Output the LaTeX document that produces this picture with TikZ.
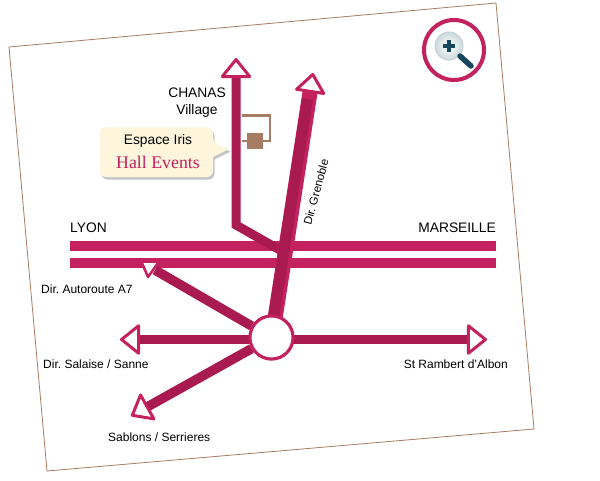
\documentclass[tikz,border=0pt]{standalone}
\usepackage{fontspec}
\setmainfont{Liberation Sans}
\newfontfamily\hallfont{Liberation Serif}
\usetikzlibrary{arrows.meta, positioning, shadows}
\definecolor{roadpink}{HTML}{C4215F}
\definecolor{roaddark}{HTML}{A81A50}
\definecolor{brownline}{HTML}{A67C62}
\definecolor{creamfill}{HTML}{FDF5DC}
\definecolor{lensfill}{HTML}{CBD9DD}
\definecolor{lensdark}{HTML}{17475C}

\begin{document}
\frenchspacing
\begin{tikzpicture}[x=1pt,y=-1pt,
    sheet/.style={draw=brownline,line width=0.8pt,fill=white},
    road/.style={line width=9.5pt,draw=roaddark},
    bar/.style={line width=10pt,draw=roadpink},
    headed/.style={-{Triangle[open,round,length=21pt,width=33pt,fill=white,color=roadpink,line width=3pt]}},
    hubring/.style={circle,draw=roadpink,fill=white,line width=3pt,minimum size=43pt,inner sep=0pt},
    place/.style={inner sep=0pt,font=\fontsize{13.8}{16}\selectfont,text=black},
    small/.style={inner sep=0pt,font=\fontsize{12}{14}\selectfont,text=black},
    site/.style={draw=brownline,line width=2.8pt}]

    \useasboundingbox (0,0) rectangle (600,480);

    % sheet of paper
    \draw[sheet] (9,47) -- (496,3) -- (534,429) -- (47,471) -- cycle;

    \coordinate (lyon_a) at (70,246);
    \coordinate (mars_a) at (496,246);
    \coordinate (lyon_b) at (70,263);
    \coordinate (mars_b) at (496,263);
    \coordinate (chanas_tip) at (236,58);
    \coordinate (chanas_bend) at (236,225);
    \coordinate (chanas_end) at (280,250);
    \coordinate (gren_tip) at (313,73);
    \coordinate (gren_foot) at (274,325);
    \coordinate (gren_dark) at (307.5,99);
    \coordinate (gren_start) at (272.5,325);
    \coordinate (a7_neck) at (155,270);
    \coordinate (a7_left) at (142,263);
    \coordinate (a7_apex) at (148,277);
    \coordinate (a7_right) at (158,263);
    \coordinate (sal_start) at (250,339.5);
    \coordinate (sal_tip) at (120,339.5);
    \coordinate (ramb_start) at (292,339.5);
    \coordinate (ramb_tip) at (487,339.5);
    \coordinate (sab_tip) at (131,416);

    \draw[bar] (lyon_a) -- (mars_a);
    \draw[bar] (lyon_b) -- (mars_b);

    \node[hubring] (hub) at (271.5,337.5) {};

    % roads
    \draw[line width=9pt,draw=roaddark,line join=miter,headed] (chanas_end) -- (chanas_bend) -- (chanas_tip);
    \draw[line width=15pt,draw=roadpink,headed] (gren_foot) -- (gren_tip);
    \draw[line width=11pt,draw=roaddark] (gren_start) -- (gren_dark);
    \draw[road,headed] (sal_start) -- (sal_tip);
    \draw[road,headed] (ramb_start) -- (ramb_tip);
    \draw[road,headed] (hub) -- (sab_tip);
    \draw[road] (hub) -- (a7_neck);
    \fill[white] (a7_left) -- (a7_apex) -- (a7_right) -- cycle;
    \draw[roadpink,line width=2.5pt,line join=round] (a7_left) -- (a7_apex) -- (a7_right);
    \node[hubring] (hubtop) at (hub) {};

    % site marker
    \node[fill=brownline,minimum size=16pt,inner sep=0pt] (hall) at (255,141) {};
    \coordinate (site_a) at (242,115.5);
    \coordinate (site_b) at (270,115.5);
    \coordinate (site_c) at (270,141);
    \draw[site] (site_a) -- (site_b) -- (site_c) -- (hall);
    \coordinate (site_d) at (242,141);
    \draw[site] (site_d) -- (hall);

    % callout
    \path[fill=creamfill,rounded corners=6pt,drop shadow={shadow xshift=1.5pt,shadow yshift=-2.5pt,fill=black!45}]
        (100,127) -- (213,127) -- (213,143) [sharp corners] -- (229,149) -- (213,157) [rounded corners=6pt] -- (213,177) -- (100,177) -- cycle;
    \node[place] (iris) at (158,141) {Espace Iris};
    \node[inner sep=0pt,text=roadpink,font=\hallfont\fontsize{17.8}{20}\selectfont] (events) at (158,162) {Hall Events};

    % loupe
    \node[circle,draw=roadpink,line width=4pt,minimum size=60pt,inner sep=0pt] (loupe) at (454,50) {};
    \node[circle,draw=lensdark!25,inner color=white,outer color=lensfill,line width=1pt,minimum size=28pt,inner sep=0pt] (lens) at (449,46) {};
    \coordinate (grip) at (471,66);
    \coordinate (neck) at (460,56);
    \draw[lensdark,line width=5.5pt,line cap=round] (neck) -- (grip);
    \draw[lensdark,line width=3.5pt] ([xshift=-6pt]lens.center) -- ([xshift=6pt]lens.center);
    \draw[lensdark,line width=3.5pt] ([yshift=-6pt]lens.center) -- ([yshift=6pt]lens.center);

    % labels
    \node[place,anchor=east] (chanas) at (226,93) {CHANAS};
    \node[place] (village) at (197,111) {Village};
    \node[place,anchor=west] (lyon) at (70,228) {LYON};
    \node[place,anchor=east] (mars) at (496,228) {MARSEILLE};
    \node[inner sep=0pt,font=\fontsize{11.5}{14}\selectfont,rotate=75] (gren) at (316,192) {Dir. Grenoble};
    \node[small,anchor=west] (a7) at (41,289) {Dir. Autoroute A7};
    \node[small,anchor=west] (sal) at (43,364) {Dir. Salaise / Sanne};
    \node[small,anchor=east] (ramb) at (508,364) {St Rambert d’Albon};
    \node[small,anchor=west] (sab) at (108,437) {Sablons / Serrieres};
\end{tikzpicture}
\end{document}
